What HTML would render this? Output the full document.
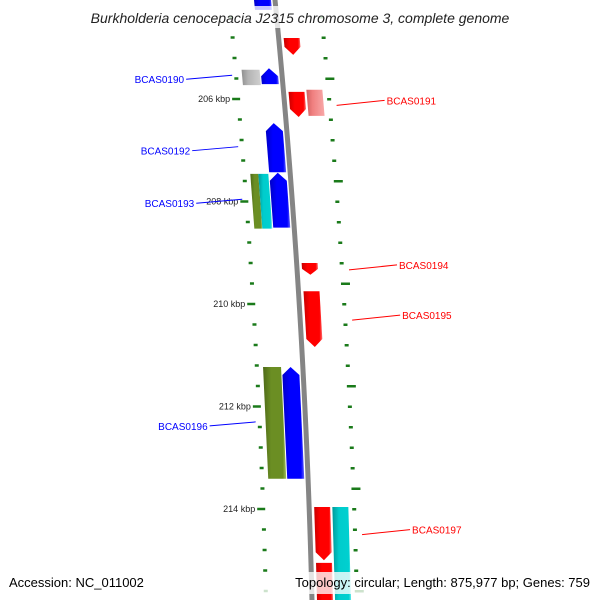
<!DOCTYPE html>
<html><head><meta charset="utf-8"><style>
body{margin:0;background:#fff;width:600px;height:600px;overflow:hidden}
svg{display:block;font-family:"Liberation Sans","DejaVu Sans",sans-serif}
</style></head><body>
<svg id="map" width="600" height="600" viewBox="0 0 600 600" xmlns="http://www.w3.org/2000/svg">
<defs>
<linearGradient id="gBack" x1="0" x2="1" y1="0" y2="0"><stop offset="0" stop-color="#a0a0a0"/><stop offset="0.5" stop-color="#7a7a7a"/><stop offset="1" stop-color="#8c8c8c"/></linearGradient>
<linearGradient id="gblue" x1="0" x2="1"><stop offset="0" stop-color="#0000c8"/><stop offset="0.35" stop-color="#0000ff"/><stop offset="0.85" stop-color="#0000ff"/><stop offset="1" stop-color="#6060ff"/></linearGradient>
<linearGradient id="gred" x1="0" x2="1"><stop offset="0" stop-color="#c80000"/><stop offset="0.35" stop-color="#ff0000"/><stop offset="0.85" stop-color="#ff0000"/><stop offset="1" stop-color="#ff7070"/></linearGradient>
<linearGradient id="ggrey" x1="0" x2="1"><stop offset="0" stop-color="#909090"/><stop offset="0.35" stop-color="#b4b4b4"/><stop offset="1" stop-color="#d0d0d0"/></linearGradient>
<linearGradient id="gpink" x1="0" x2="1"><stop offset="0" stop-color="#d06060"/><stop offset="0.35" stop-color="#f08080"/><stop offset="1" stop-color="#f8a8a8"/></linearGradient>
<linearGradient id="golive" x1="0" x2="1"><stop offset="0" stop-color="#4e6a18"/><stop offset="0.35" stop-color="#6b8e23"/><stop offset="0.85" stop-color="#6b8e23"/><stop offset="1" stop-color="#a0c060"/></linearGradient>
<linearGradient id="gcyan" x1="0" x2="1"><stop offset="0" stop-color="#009a9a"/><stop offset="0.35" stop-color="#00cccc"/><stop offset="0.85" stop-color="#00d0d0"/><stop offset="1" stop-color="#80f0f0"/></linearGradient>
</defs>
<g id="ticks"></g>
<g id="genes"></g>
<g id="labels"></g>
<rect x="65" y="6" width="470" height="22" fill="#fff" opacity="0.78"/>
<text x="300" y="23" text-anchor="middle" font-size="14" font-style="italic" fill="#222">Burkholderia cenocepacia J2315 chromosome 3, complete genome</text>
<rect x="4" y="572" width="592" height="22" fill="#fff" opacity="0.78"/>
<text x="9" y="587" font-size="13" fill="#000">Accession: NC_011002</text>
<text x="590" y="587" text-anchor="end" font-size="13" fill="#000">Topology: circular; Length: 875,977 bp; Genes: 759</text>
</svg>
<script>
const geneStarts = [203.87,204.81,205.43,205.40,205.86,205.82,206.47,207.46,207.46,207.44,209.20,209.75,211.23,211.23,213.96,215.05,213.96];
const geneEnds   = [204.26,205.14,205.73,205.71,206.35,206.33,207.43,208.53,208.53,208.51,209.43,210.84,213.41,213.41,215.00,216.20,216.20];
const geneStrands= ['+','-','0','+','-','0','+','0','0','+','-','-','0','+','-','-','0'];
const geneTracks = ['li','ri','lo','li','ri','ro','li','loa','lob','li','ri','ri','lo','li','ri','ri','ro'];
const geneColors = ['blue','red','grey','blue','red','pink','blue','olive','cyan','blue','red','red','olive','blue','red','red','cyan'];
const leftMajorTicks = [206,208,210,212,214];
const leftTickLabels = ['206 kbp','208 kbp','210 kbp','212 kbp','214 kbp'];
const labelNames = ['BCAS0190','BCAS0191','BCAS0192','BCAS0193','BCAS0194','BCAS0195','BCAS0196','BCAS0197'];
const labelGene  = [3,4,6,9,10,11,13,14];
const labelSide  = ['L','R','L','L','R','R','L','R'];

const NS='http://www.w3.org/2000/svg';
function yOf(k){return 99+(k-206)*51.25;}
function bx(y){return 275+0.0983*y-0.0000611*y*y;}
const tracks={li:[-21,-4],ri:[5,21],lo:[-40,-22],ro:[23,39],loa:[-40,-32],lob:[-32,-22]};
function mk(tag,attrs,parent){const e=document.createElementNS(NS,tag);for(const k in attrs)e.setAttribute(k,attrs[k]);parent.appendChild(e);return e;}

const svg=document.getElementById('map');
// backbone
let pts=[];for(let y=-5;y<=605;y+=5)pts.push(bx(y)+','+y);
const bb=mk('polyline',{points:pts.join(' '),fill:'none',stroke:'#858585','stroke-width':5},svg);


svg.insertBefore(bb,document.getElementById('ticks'));

// ticks
const tg=document.getElementById('ticks');
for(let k=203.6;k<=216.4;k+=0.4){
  const kk=Math.round(k*10)/10;const y=yOf(kk);
  const major=leftMajorTicks.some(m=>Math.abs(m-kk)<0.01);
  const b=bx(y);
  const t=mk('line',{x1:b+(major?-52:-48),y1:y,x2:b-44,y2:y,stroke:'#1a7a1a','stroke-width':2.5},tg);
  
  
}
leftMajorTicks.forEach((m,i)=>{const y=yOf(m);const t=mk('text',{x:bx(y)-54,y:y+3,'text-anchor':'end','font-size':9,fill:'#222'},tg);t.textContent=leftTickLabels[i];
  
  });
for(let k=203.4;k<=216.4;k+=0.4){
  const kk=Math.round(k*10)/10;const y=yOf(kk)-10;
  const major=Math.abs(((kk-205.8)/2)-Math.round((kk-205.8)/2))<0.01;
  const b=bx(y);
  const t=mk('line',{x1:b+43,y1:y,x2:b+(major?52:47),y2:y,stroke:'#1a7a1a','stroke-width':2.5},tg);
  
  
}

// genes
const gg=document.getElementById('genes');
geneStarts.forEach((s,i)=>{
  const y1=yOf(s),y2=yOf(geneEnds[i]);const tr=tracks[geneTracks[i]];
  const ym=(y1+y2)/2,b=bx(ym);const a=b+tr[0],c=b+tr[1],mid=(a+c)/2;
  const d=(bx(y2)-bx(y1));
  let p;
  if(geneStrands[i]==='+'){const h=Math.min(8,(y2-y1)/2);
    p=[[c+d/2,y2],[a+d/2,y2],[a-d/2+(d*h/(y2-y1)),y1+h],[mid-d/2,y1],[c-d/2+(d*h/(y2-y1)),y1+h]];}
  else if(geneStrands[i]==='-'){const h=Math.min(8,(y2-y1)/2);
    p=[[a-d/2,y1],[c-d/2,y1],[c+d/2-(d*h/(y2-y1)),y2-h],[mid+d/2,y2],[a+d/2-(d*h/(y2-y1)),y2-h]];}
  else p=[[a-d/2,y1],[c-d/2,y1],[c+d/2,y2],[a+d/2,y2]];
  const e=mk('polygon',{points:p.map(q=>q.join(',')).join(' '),fill:'url(#g'+geneColors[i]+')'},gg);
  
  
});

// labels
const lg=document.getElementById('labels');
labelNames.forEach((n,i)=>{
  const g=labelGene[i];const y=(yOf(geneStarts[g])+yOf(geneEnds[g]))/2;
  const L=labelSide[i]==='L';const col=L?'#0000ff':'#ff0000';
  let ty=y+(L?3:-4);
  const b=bx(y);
  let lx1,lx2,tx;
  if(L){lx2=b-50;lx1=lx2-46;tx=lx1-2;}else{lx1=b+52;lx2=lx1+48;tx=lx2+2;}
  const ln=mk('line',{x1:lx1,y1:L?ty:ty+5,x2:lx2,y2:L?ty-4:ty,stroke:col,'stroke-width':1},lg);
  
  
  const t=mk('text',{x:tx,y:(L?ty:ty)+4,'text-anchor':L?'end':'start','font-size':10,fill:col},lg);
  t.textContent=n;
  
  
});
</script>
</body></html>
